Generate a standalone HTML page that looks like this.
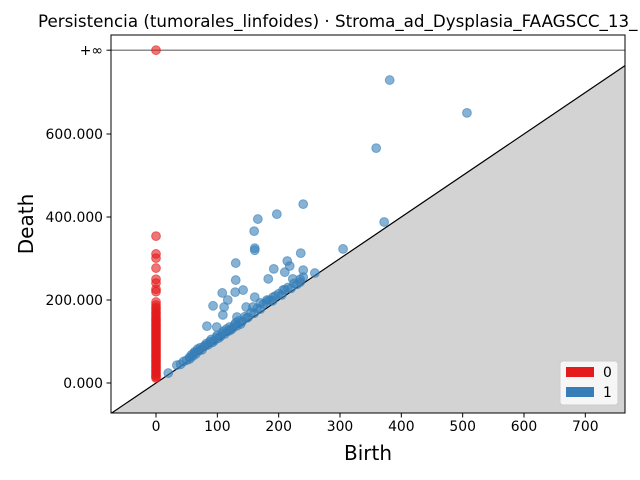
<!DOCTYPE html>
<html><head><meta charset="utf-8"><style>
body{margin:0;background:#fff}
svg{font-family:"DejaVu Sans","Liberation Sans",sans-serif;display:block}
</style></head><body>
<svg id="chart" width="640" height="480" viewBox="0 0 640 480" xmlns="http://www.w3.org/2000/svg">
<text x="38" y="27" font-size="16.7" fill="#000">Persistencia (tumorales_linfoides) · Stroma_ad_Dysplasia_FAAGSCC_13_</text>
<g id="plot"></g>
</svg>
<script>
const xTicks=[0,100,200,300,400,500,600,700];
const yTicks=[0,200,400,600];
const yTickLabels=["0.000","200.000","400.000","600.000"];
const infValue=802;
const redDeaths=[354,311,301,277,250,241,226,220,195,188,182,178,172,168,163,158,154,150,146,142,138,134,130,126,122,118,114,110,106,102,98,94,90,86,82,78,74,70,66,62,58,54,50,46,42,38,34,30,26,22,18,15,12];
const redInfCount=1;
const blueBirths=[381,507,359,372,240,197,166,160,161,161,305,130,214,236,218,192,240,259,210,130,183,223,142,129,108,117,93,111,147,161,181,207,235,191,158,109,132,148,170,83,99,20,34,
40,45,50,55,60,62,65,70,72,75,80,82,85,88,90,95,98,100,105,108,110,112,115,118,120,125,128,130,132,135,140,145,150,155,160,165,170,175,180,185,190,195,200,205,210,215,220,225,230,235,240,55,58,63,68,78,92,102,122,138];
const blueDeaths=[730,651,566,388,431,407,395,366,325,320,323,289,294,313,282,275,272,265,267,248,251,251,224,219,217,200,186,183,183,207,200,224,243,207,183,164,159,157,193,137,135,24,43,
45,52,55,62,65,72,70,78,85,80,90,95,92,100,105,102,110,115,112,120,125,118,130,125,135,132,140,145,138,150,148,160,158,170,168,180,178,190,195,200,198,210,215,212,225,230,228,240,238,250,255,58,68,75,82,88,98,108,128,142];
const L=111,R=625,T=35,B=413,xmin=-73.4,xmax=764.7,ymin=-72.3,ymax=838.6;
const sx=v=>L+(v-xmin)/(xmax-xmin)*(R-L);
const sy=v=>B-(v-ymin)/(ymax-ymin)*(B-T);
const NS="http://www.w3.org/2000/svg";
const g=document.getElementById('plot');
function mk(t,a,p){const e=document.createElementNS(NS,t);for(const k in a)e.setAttribute(k,a[k]);(p||g).appendChild(e);return e;}
const clip=mk('clipPath',{id:'c'});mk('rect',{x:L,y:T,width:R-L,height:B-T},clip);
const fill=mk('polygon',{points:`${sx(xmin)},${sy(xmin)} ${sx(xmax)},${sy(xmax)} ${R},${B} ${L},${B}`,fill:'#d3d3d3','clip-path':'url(#c)'});


const diag=mk('line',{x1:sx(xmin),y1:sy(xmin),x2:sx(xmax),y2:sy(xmax),stroke:'#000','stroke-width':1.2,'clip-path':'url(#c)'});


const inf=mk('line',{x1:L,y1:sy(infValue),x2:R,y2:sy(infValue),stroke:'#666','stroke-width':1.2});


const ms={r:4.4,'fill-opacity':0.6,'stroke-opacity':0.6,'stroke-width':1};
for(let i=0;i<redDeaths.length;i++){const c=mk('circle',Object.assign({cx:sx(0),cy:sy(redDeaths[i]),fill:'#e41a1c',stroke:'#e41a1c'},ms));

}
for(let i=0;i<redInfCount;i++){const c=mk('circle',Object.assign({cx:sx(0),cy:sy(infValue),fill:'#e41a1c',stroke:'#e41a1c'},ms));

}
for(let i=0;i<blueBirths.length;i++){const c=mk('circle',Object.assign({cx:sx(blueBirths[i]),cy:sy(blueDeaths[i]),fill:'#377eb8',stroke:'#377eb8'},ms));

}
const fr=mk('rect',{x:L,y:T,width:R-L,height:B-T,fill:'none',stroke:'#000','stroke-width':1});


xTicks.forEach(v=>{const x=sx(v);mk('line',{x1:x,y1:B,x2:x,y2:B+4.5,stroke:'#000'});
const t=mk('text',{x:x,y:B+18,'font-size':13.9,'text-anchor':'middle'});t.textContent=v;

});
yTicks.forEach((v,i)=>{const y=sy(v);mk('line',{x1:L-4.5,y1:y,x2:L,y2:y,stroke:'#000'});
const t=mk('text',{x:L-8,y:y+5,'font-size':13.9,'text-anchor':'end'});t.textContent=yTickLabels[i];

});
mk('line',{x1:L-4.5,y1:sy(infValue),x2:L,y2:sy(infValue),stroke:'#000'});
const ti=mk('text',{x:L-8,y:sy(infValue)+5,'font-size':13.9,'text-anchor':'end'});ti.textContent='+∞';


const xl=mk('text',{x:368,y:460,'font-size':20,'text-anchor':'middle'});xl.textContent='Birth';


const yl=mk('text',{x:0,y:0,'font-size':20,'text-anchor':'middle',transform:'translate(33,224) rotate(-90)'});yl.textContent='Death';


const lg=mk('g',{});


mk('rect',{x:560,y:361,width:58,height:44,rx:3,fill:'#fff','fill-opacity':0.8,stroke:'#ccc'},lg);
const labels=['0','1'],cols=['#e41a1c','#377eb8'];
labels.forEach((s,i)=>{const p=mk('rect',{x:566,y:367+i*20,width:28,height:10,fill:cols[i]},lg);


const t=mk('text',{x:603,y:377+i*20,'font-size':13.9},lg);t.textContent=s;

});
</script>
</body></html>
